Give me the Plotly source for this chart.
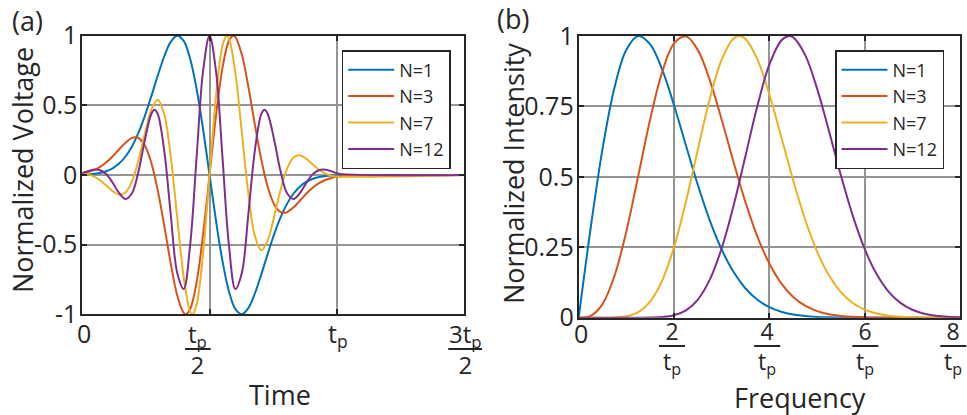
import plotly.graph_objects as go

W, H = 967, 415
FONT = "Open Sans"
INK = "#262626"
COLORS = {"N=1": "#0072BD", "N=3": "#D95319", "N=7": "#EDB120", "N=12": "#7E2F8E"}

# ---------------- (a) time domain: normalized voltage ----------------
time_n1 = [-0.0081, 0.0173, 0.0427, 0.0681, 0.0935, 0.1189, 0.1443, 0.1697, 0.1951, 0.2205,
           0.2459, 0.2713, 0.2967, 0.3222, 0.3476, 0.3730, 0.3984, 0.4238, 0.4492, 0.4746,
           0.5, 0.5254, 0.5508, 0.5762, 0.6016, 0.6270, 0.6524, 0.6778, 0.7033, 0.7287,
           0.7541, 0.7795, 0.8049, 0.8303, 0.8557, 0.8811, 0.9065, 0.9319, 0.9573, 0.9827,
           1.0081, 1.5]
volt_n1 = [0.0017, 0.0037, 0.0075, 0.0146, 0.0271, 0.0482, 0.0819, 0.1327, 0.2054, 0.3028,
           0.4247, 0.5660, 0.7148, 0.8525, 0.9559, 0.9998, 0.9632, 0.8348, 0.6171, 0.3283,
           0.0, -0.3283, -0.6171, -0.8348, -0.9632, -0.9998, -0.9559, -0.8525, -0.7148, -0.5660,
           -0.4247, -0.3028, -0.2054, -0.1327, -0.0819, -0.0482, -0.0271, -0.0146, -0.0075, -0.0037,
           -0.0017, 0.0]

time_n3 = [-0.0081, 0.0173, 0.0427, 0.0681, 0.0935, 0.1189, 0.1443, 0.1697, 0.1951, 0.2083,
           0.2205, 0.2459, 0.2713, 0.2967, 0.3222, 0.3476, 0.3730, 0.3984, 0.4073, 0.4238,
           0.4492, 0.4746, 0.5, 0.5254, 0.5508, 0.5762, 0.5927, 0.6016, 0.6270, 0.6524,
           0.6778, 0.7033, 0.7287, 0.7541, 0.7795, 0.7917, 0.8049, 0.8303, 0.8557, 0.8811,
           0.9065, 0.9319, 0.9573, 0.9827, 1.0081, 1.5]
volt_n3 = [0.0103, 0.0193, 0.0342, 0.0572, 0.0902, 0.1332, 0.1834, 0.2323, 0.2662, 0.2716,
           0.2660, 0.2111, 0.0862, -0.1119, -0.3656, -0.6356, -0.8643, -0.9902, -1.0, -0.9642,
           -0.7688, -0.4269, 0.0, 0.4269, 0.7688, 0.9642, 1.0, 0.9902, 0.8643, 0.6356,
           0.3656, 0.1119, -0.0862, -0.2111, -0.2660, -0.2716, -0.2662, -0.2323, -0.1834, -0.1332,
           -0.0902, -0.0572, -0.0342, -0.0193, -0.0103, 0.0]

time_n7 = [-0.0081, 0.0173, 0.0427, 0.0681, 0.0935, 0.1189, 0.1443, 0.1697, 0.1951, 0.2205,
           0.2459, 0.2713, 0.2967, 0.3222, 0.3476, 0.3730, 0.3984, 0.4238, 0.4326, 0.4492,
           0.4746, 0.5, 0.5254, 0.5508, 0.5674, 0.5762, 0.6016, 0.6270, 0.6524, 0.6778,
           0.7033, 0.7287, 0.7541, 0.7795, 0.8049, 0.8303, 0.8557, 0.8811, 0.9065, 0.9319,
           0.9573, 0.9827, 1.0081, 1.5]
volt_n7 = [0.0120, 0.0067, -0.0082, -0.0355, -0.0742, -0.1154, -0.1407, -0.1251, -0.0456, 0.1035,
           0.2964, 0.4702, 0.5404, 0.4335, 0.1305, -0.3046, -0.7312, -0.9803, -1.0, -0.9290,
           -0.5642, 0.0, 0.5642, 0.9290, 1.0, 0.9803, 0.7312, 0.3046, -0.1305, -0.4335,
           -0.5404, -0.4702, -0.2964, -0.1035, 0.0456, 0.1251, 0.1407, 0.1154, 0.0742, 0.0355,
           0.0082, -0.0067, -0.0120, 0.0]

time_n12 = [-0.0081, 0.0173, 0.0427, 0.0681, 0.0935, 0.1189, 0.1443, 0.1697, 0.1951, 0.2205,
            0.2459, 0.2713, 0.2840, 0.2967, 0.3222, 0.3476, 0.3730, 0.3984, 0.4238, 0.4492,
            0.4746, 0.5, 0.5254, 0.5508, 0.5762, 0.6016, 0.6270, 0.6524, 0.6778, 0.7033,
            0.7160, 0.7287, 0.7541, 0.7795, 0.8049, 0.8303, 0.8557, 0.8811, 0.9065, 0.9319,
            0.9573, 0.9827, 1.0081, 1.5]
volt_n12 = [0.0099, 0.0243, 0.0371, 0.0358, 0.0067, -0.0543, -0.1291, -0.1731, -0.1315, 0.0233,
            0.2519, 0.4378, 0.4684, 0.4369, 0.1718, -0.2836, -0.7023, -0.8192, -0.5029, 0.1281,
            0.7449, 1.0, 0.7449, 0.1281, -0.5029, -0.8192, -0.7023, -0.2836, 0.1718, 0.4369,
            0.4684, 0.4378, 0.2519, 0.0233, -0.1315, -0.1731, -0.1291, -0.0543, 0.0067, 0.0358,
            0.0371, 0.0243, 0.0099, 0.0]

# ---------------- (b) frequency domain: normalized intensity ----------------
freq_base = [0, 0.25, 0.5, 0.75, 1.0, 1.25, 1.5, 1.75, 2.0, 2.25, 2.5, 2.75, 3.0, 3.25, 3.5, 3.75,
             4.0, 4.25, 4.5, 4.75, 5.0, 5.25, 5.5, 5.75, 6.0, 6.25, 6.5, 6.75, 7.0, 7.25, 7.5,
             7.75, 8.0]
freq_n1 = freq_base
inten_n1 = [0, 0.3175, 0.5994, 0.8165, 0.9512, 0.9997, 0.9704, 0.8812, 0.7542, 0.6114, 0.4710,
            0.3456, 0.2420, 0.1619, 0.1036, 0.0635, 0.0373, 0.0210, 0.0113, 0.0058, 0.0029,
            0.0014, 0.0006, 0.0003, 0.0001, 0, 0, 0, 0, 0, 0, 0, 0]
freq_n3 = freq_base
inten_n3 = [0, 0.0064, 0.0484, 0.1482, 0.3070, 0.5041, 0.7046, 0.8709, 0.9735, 0.9988, 0.9499,
            0.8433, 0.7028, 0.5518, 0.4096, 0.2880, 0.1923, 0.1221, 0.0738, 0.0425, 0.0234,
            0.0123, 0.0062, 0.0030, 0.0014, 0.0006, 0.0003, 0.0001, 0, 0, 0, 0, 0]
freq_n7 = [0, 0.25, 0.5, 0.75, 1.0, 1.25, 1.5, 1.75, 2.0, 2.25, 2.5, 2.75, 3.0, 3.25, 3.3687,
           3.5, 3.75, 4.0, 4.25, 4.5, 4.75, 5.0, 5.25, 5.5, 5.75, 6.0, 6.25, 6.5, 6.75, 7.0,
           7.25, 7.5, 7.75, 8.0]
inten_n7 = [0, 0, 0.0000, 0.0008, 0.0049, 0.0198, 0.0574, 0.1315, 0.2507, 0.4121, 0.5974,
            0.7766, 0.9165, 0.9913, 1.0, 0.9896, 0.9171, 0.7926, 0.6414, 0.4875, 0.3487, 0.2355,
            0.1503, 0.0909, 0.0521, 0.0284, 0.0147, 0.0072, 0.0034, 0.0015, 0.0006, 0.0003,
            0.0001, 0]
freq_n12 = [0, 0.25, 0.5, 0.75, 1.0, 1.25, 1.5, 1.75, 2.0, 2.25, 2.5, 2.75, 3.0, 3.25, 3.5, 3.75,
            4.0, 4.25, 4.4107, 4.5, 4.75, 5.0, 5.25, 5.5, 5.75, 6.0, 6.25, 6.5, 6.75, 7.0, 7.25,
            7.5, 7.75, 8.0]
inten_n12 = [0, 0, 0, 0, 0.0000, 0.0001, 0.0005, 0.0024, 0.0089, 0.0263, 0.0645, 0.1351, 0.2464,
             0.3977, 0.5751, 0.7524, 0.8980, 0.9839, 1.0, 0.9951, 0.9329, 0.8141, 0.6632, 0.5060,
             0.3623, 0.2440, 0.1548, 0.0928, 0.0526, 0.0282, 0.0143, 0.0069, 0.0031, 0.0014]

series_names = ["N=1", "N=3", "N=7", "N=12"]
left_series = [(time_n1, volt_n1), (time_n3, volt_n3), (time_n7, volt_n7), (time_n12, volt_n12)]
right_series = [(freq_n1, inten_n1), (freq_n3, inten_n3), (freq_n7, inten_n7), (freq_n12, inten_n12)]

volt_ticks = [-1, -0.5, 0, 0.5, 1]
volt_ticktext = ["-1", "-0.5", "0", "0.5", "1"]
inten_ticks = [0, 0.25, 0.5, 0.75, 1]
inten_ticktext = ["0", "0.25", "0.5", "0.75", "1"]
time_ticks = [0, 0.5, 1.0, 1.5]
freq_ticks = [0, 2, 4, 6, 8]

fig = go.Figure()
for name, (xs, ys) in zip(series_names, left_series):
    fig.add_trace(go.Scatter(x=xs, y=ys, name=name, mode="lines", xaxis="x", yaxis="y",
                             line=dict(color=COLORS[name], width=2, shape="spline"),
                             legend="legend"))
for name, (xs, ys) in zip(series_names, right_series):
    fig.add_trace(go.Scatter(x=xs, y=ys, name=name, mode="lines", xaxis="x2", yaxis="y2",
                             line=dict(color=COLORS[name], width=2, shape="spline"),
                             legend="legend2"))

def px_x(p):
    return p / W

def px_y(p):
    return 1 - p / H

axis_common = dict(showline=True, linecolor=INK, linewidth=2, mirror="ticks", ticks="inside",
                   ticklen=5, tickwidth=1.5, tickcolor=INK, showgrid=True, gridcolor="#959595",
                   gridwidth=1.5, zeroline=False, automargin=False,
                   tickfont=dict(family=FONT, size=25, color=INK))

legend_common = dict(xanchor="left", yanchor="top", bgcolor="white", bordercolor=INK,
                     borderwidth=1.5, font=dict(family=FONT, size=18, color=INK),
                     itemwidth=46, tracegroupgap=0)

fig.update_layout(
    width=W, height=H, margin=dict(l=0, r=0, t=0, b=0, autoexpand=False),
    paper_bgcolor="white", plot_bgcolor="white",
    font=dict(family=FONT, color=INK),
    xaxis=dict(domain=[px_x(82.3), px_x(464)], range=[0, 1.5], tickvals=time_ticks,
               showticklabels=False, anchor="y", **axis_common),
    yaxis=dict(domain=[px_y(314.3), px_y(35.7)], range=[-1, 1], tickvals=volt_ticks,
               ticktext=volt_ticktext, anchor="x", ticklabelstandoff=-2, **axis_common),
    xaxis2=dict(domain=[px_x(578.7), px_x(960)], range=[0, 8], tickvals=freq_ticks,
                showticklabels=False, anchor="y2", **axis_common),
    yaxis2=dict(domain=[px_y(317.7), px_y(36)], range=[0, 1], tickvals=inten_ticks,
                ticktext=inten_ticktext, anchor="x2", ticklabelstandoff=-2, **axis_common),
    legend=dict(x=px_x(341.7), y=px_y(50), **legend_common),
    legend2=dict(x=px_x(835), y=px_y(50), **legend_common),
    showlegend=True,
)

annotations = []
shapes = []

def text_at(txt, cx, cy, size=25, angle=0):
    annotations.append(dict(text=txt, x=px_x(cx), y=px_y(cy), xref="paper", yref="paper",
                            xanchor="center", yanchor="middle", showarrow=False,
                            textangle=angle, font=dict(family=FONT, size=size, color=INK)))

def bar(x0, x1, y):
    shapes.append(dict(type="line", xref="paper", yref="paper", x0=px_x(x0), x1=px_x(x1),
                       y0=px_y(y), y1=px_y(y), line=dict(color=INK, width=2)))

# x tick labels, panel (a)
text_at("0", 84, 333)
text_at("t<sub>p</sub><br>2", 197.8, 348.5, size=24)
bar(185, 210.7, 349)
text_at("t<sub>p</sub>", 337.5, 334)
text_at("3t<sub>p</sub><br>2", 465, 348.5, size=24)
bar(448.3, 482, 349)

# x tick labels, panel (b)
text_at("0", 580.7, 333)
for num, cx in zip(["2", "4", "6", "8"], [672, 767.2, 865.3, 953.3]):
    text_at(num + "<br>t<sub>p</sub>", cx, 347.5, size=23)
    bar(cx - 13, cx + 13, 346)

# axis titles and panel labels
text_at("Time", 280, 394, size=27)
text_at("Frequency", 800, 397, size=27)
text_at("Normalized Voltage", 22, 170, size=27, angle=-90)
text_at("Normalized Intensity", 513, 174, size=27, angle=-90)
text_at("(a)", 27.5, 20, size=27)
text_at("(b)", 513.3, 18.5, size=27)

fig.update_layout(annotations=annotations, shapes=shapes)
fig.write_html("out.html")
